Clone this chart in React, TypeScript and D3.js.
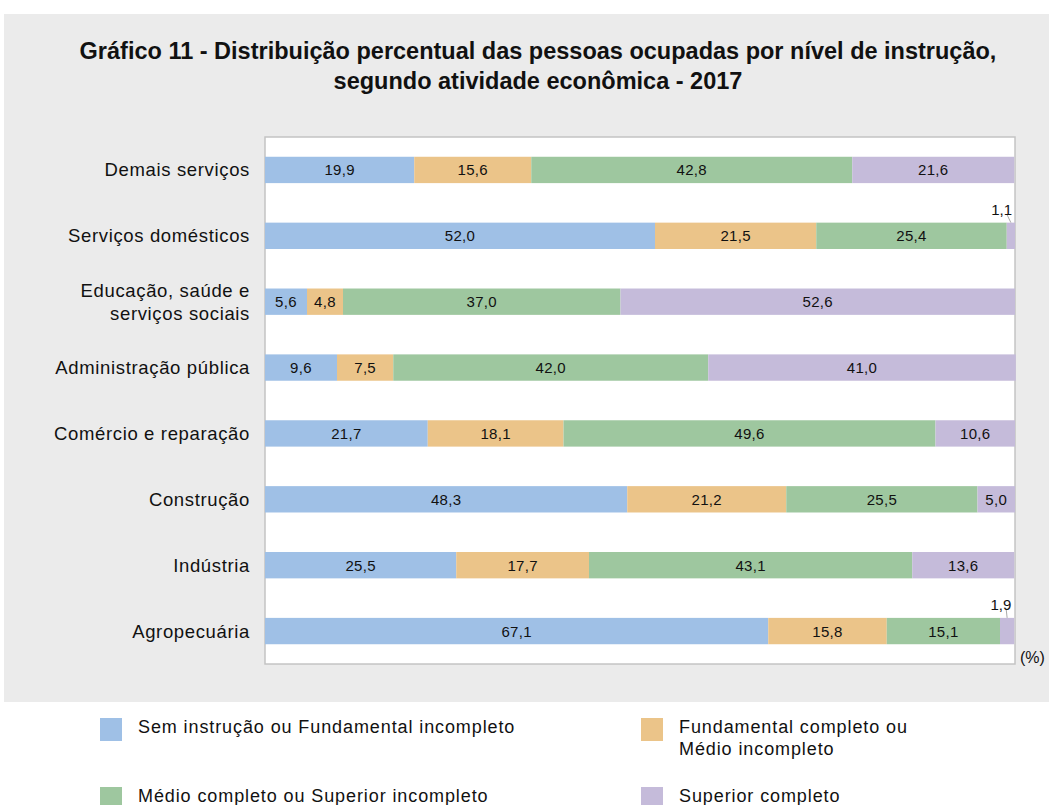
import React from "react";
import * as d3 from "d3";

const categories = [
  "Demais serviços",
  "Serviços domésticos",
  "Educação, saúde e|serviços sociais",
  "Administração pública",
  "Comércio e reparação",
  "Construção",
  "Indústria",
  "Agropecuária",
];
const seriesNames = [
  "Sem instrução ou Fundamental incompleto",
  "Fundamental completo ou|Médio incompleto",
  "Médio completo ou Superior incompleto",
  "Superior completo",
];
const semInstrucao = [19.9, 52.0, 5.6, 9.6, 21.7, 48.3, 25.5, 67.1];
const fundamental = [15.6, 21.5, 4.8, 7.5, 18.1, 21.2, 17.7, 15.8];
const medio = [42.8, 25.4, 37.0, 42.0, 49.6, 25.5, 43.1, 15.1];
const superior = [21.6, 1.1, 52.6, 41.0, 10.6, 5.0, 13.6, 1.9];
const colors = ["#9fc0e6", "#ebc489", "#9ec79f", "#c5bbda"];

const W = 1049;
const H = 805;
const plot = { x0: 265, x1: 1015, y0: 137, y1: 664 };
const font = "'Liberation Sans', Arial, sans-serif";

export default function App() {
  const series = [semInstrucao, fundamental, medio, superior];
  const x = d3.scaleLinear().domain([0, 100]).range([plot.x0, plot.x1]);
  const y = d3
    .scaleBand<string>()
    .domain(categories)
    .range([plot.y0, plot.y1])
    .paddingInner(0.6)
    .paddingOuter(0.3);
  const rows = categories.map((c, i) => {
    const data: { [k: string]: number } = {};
    series.forEach((s, k) => (data["s" + k] = s[i]));
    return data;
  });
  const stack = d3.stack<{ [k: string]: number }>().keys(["s0", "s1", "s2", "s3"]);
  const stacked = stack(rows);
  const fmt = (v: number) => v.toFixed(1).replace(".", ",");

  return (
    <svg width={W} height={H} style={{ display: "block", position: "absolute", left: 0, top: 0 }}>
      <rect x={0} y={0} width={W} height={H} fill="#ffffff" />
      <rect x={4} y={14} width={W - 4} height={688} fill="#ebebeb" />
      <text x={538} y={59} textAnchor="middle" fontFamily={font} fontWeight="bold" fontSize={23.5} fill="#111">
        Gráfico 11 - Distribuição percentual das pessoas ocupadas por nível de instrução,
      </text>
      <text x={538} y={89} textAnchor="middle" fontFamily={font} fontWeight="bold" fontSize={23.5} fill="#111">
        segundo atividade econômica - 2017
      </text>
      <rect
        x={plot.x0}
        y={plot.y0}
        width={plot.x1 - plot.x0}
        height={plot.y1 - plot.y0}
        fill="#ffffff"
        stroke="#c4c4c4"
        strokeWidth={1.5}
      />
      {stacked.map((layer, k) =>
        layer.map((d, i) => {
          const c = categories[i];
          const x0 = x(d[0]);
          const x1 = x(d[1]);
          const yy = y(c)!;
          const bh = y.bandwidth();
          const v = series[k][i];
          const small = x1 - x0 < 20;
          return (
            <g key={k + "-" + i}>
              <rect x={x0} y={yy} width={x1 - x0} height={bh} fill={colors[k]} />
              {!small ? (
                <text
                  x={(x0 + x1) / 2}
                  y={yy + bh / 2 + 5.5}
                  textAnchor="middle"
                  fontFamily={font}
                  fontSize={15}
                  letterSpacing={0.3}
                  fill="#111"
                >
                  {fmt(v)}
                </text>
              ) : (
                <g>
                  <line x1={x1 - 8} y1={yy - 8} x2={(x0 + x1) / 2} y2={yy} stroke="#aaa" strokeWidth={1} />
                  <text x={x1 - 3} y={yy - 8} textAnchor="end" fontFamily={font} fontSize={15} fill="#111">
                    {fmt(v)}
                  </text>
                </g>
              )}
            </g>
          );
        })
      )}
      {categories.map((c) => {
        const lines = c.split("|");
        const cy = y(c)! + y.bandwidth() / 2;
        return (
          <text key={c} textAnchor="end" fontFamily={font} fontSize={18.5} letterSpacing={0.65} fill="#111">
            {lines.map((l, j) => (
              <tspan key={j} x={250} y={cy + 6.5 + (j - (lines.length - 1) / 2) * 23}>
                {l}
              </tspan>
            ))}
          </text>
        );
      })}
      <text x={1020} y={663} fontFamily={font} fontSize={16} fill="#111">
        (%)
      </text>
      {seriesNames.map((n, k) => {
        const col = k % 2;
        const row = Math.floor(k / 2);
        const lx = col === 0 ? 100 : 641;
        const ly = row === 0 ? 718 : 787;
        const lines = n.split("|");
        return (
          <g key={n}>
            <rect x={lx} y={ly} width={22} height={23} fill={colors[k]} />
            <text fontFamily={font} fontSize={18} fill="#111" letterSpacing={0.9}>
              {lines.map((l, j) => (
                <tspan key={j} x={lx + 38} y={ly + 15 + j * 22}>
                  {l}
                </tspan>
              ))}
            </text>
          </g>
        );
      })}
    </svg>
  );
}
